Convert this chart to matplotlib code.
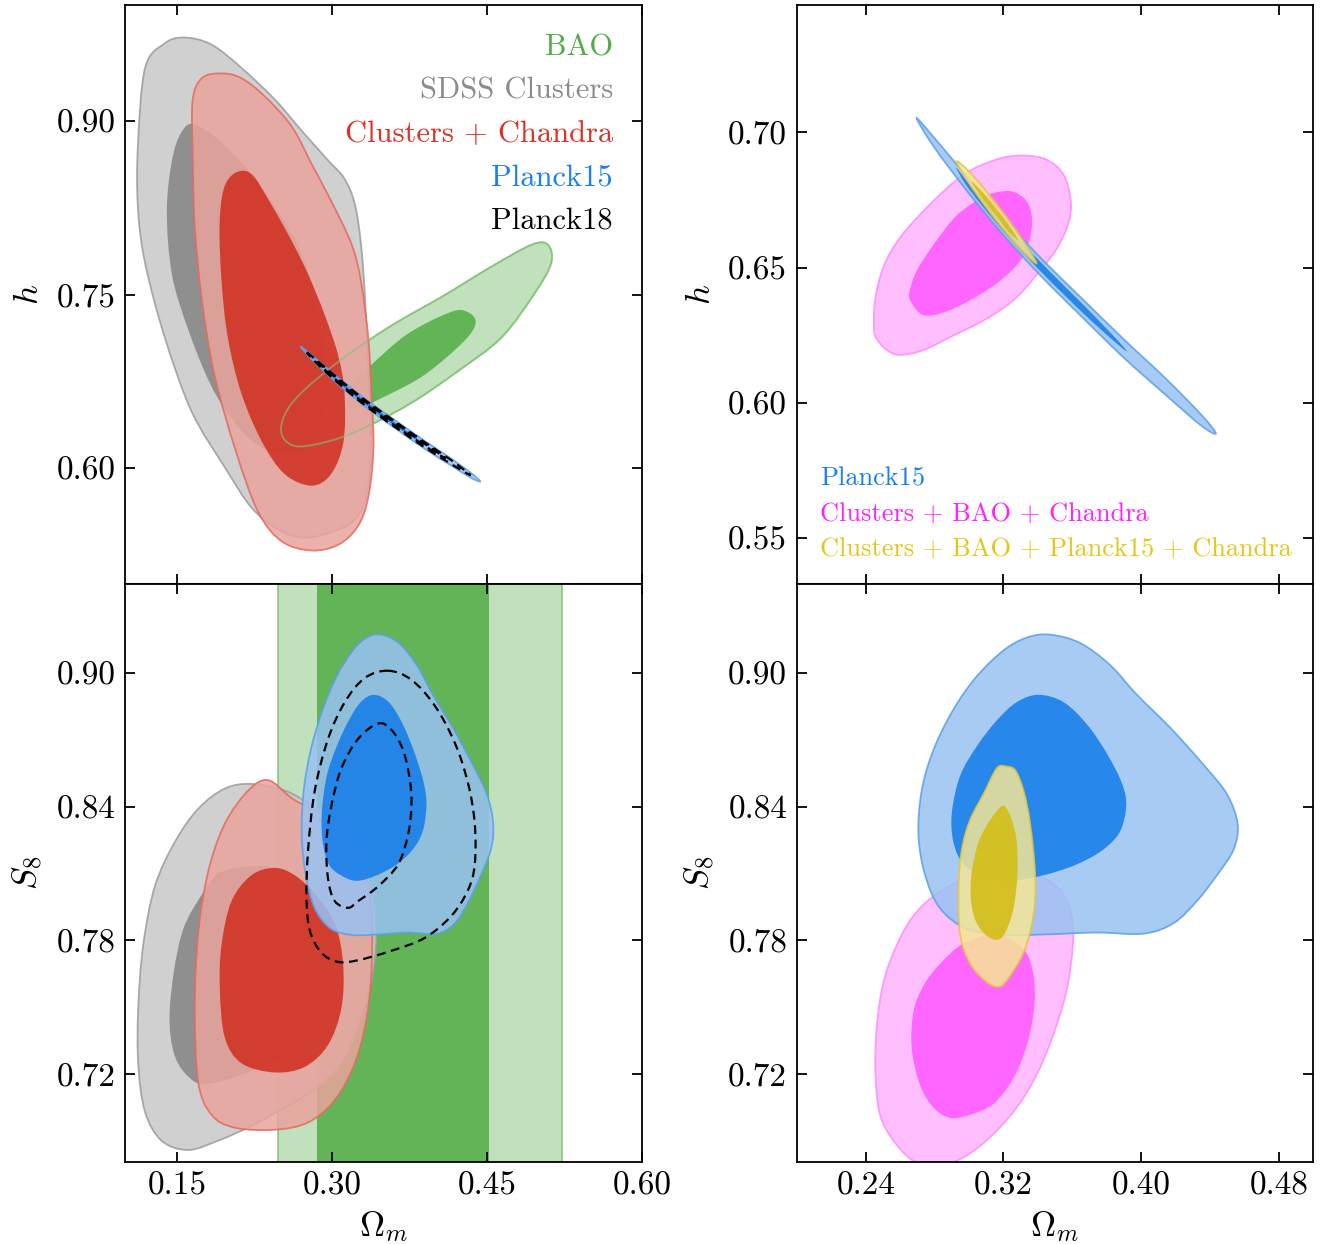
import matplotlib
matplotlib.use('Agg')
import matplotlib.pyplot as plt
from matplotlib.path import Path
from matplotlib.patches import PathPatch
from matplotlib.ticker import FormatStrFormatter

plt.rcParams['font.family'] = 'serif'
plt.rcParams['font.serif'] = ['cmr10']
plt.rcParams['mathtext.fontset'] = 'cm'
plt.rcParams['axes.unicode_minus'] = False
plt.rcParams['axes.formatter.use_mathtext'] = True

# ---- contour outlines: (Omega_m, h) plane ----
sdss_h_95 = ([0.112, 0.119, 0.138, 0.157, 0.183, 0.212, 0.245, 0.270, 0.296, 0.312, 0.322, 0.328, 0.332,
              0.335, 0.338, 0.335, 0.325, 0.306, 0.274, 0.248, 0.222, 0.196, 0.164, 0.138, 0.119, 0.112],
             [0.879, 0.946, 0.967, 0.972, 0.966, 0.946, 0.918, 0.892, 0.866, 0.850, 0.828, 0.793, 0.745,
              0.681, 0.633, 0.585, 0.559, 0.547, 0.540, 0.547, 0.566, 0.601, 0.649, 0.713, 0.777, 0.825])
sdss_h_68 = ([0.167, 0.196, 0.228, 0.261, 0.280, 0.290, 0.293, 0.290, 0.274, 0.251, 0.228, 0.206, 0.183,
              0.161, 0.145, 0.140, 0.145, 0.154],
             [0.897, 0.879, 0.847, 0.802, 0.761, 0.713, 0.665, 0.633, 0.617, 0.612, 0.620, 0.639, 0.671,
              0.719, 0.767, 0.822, 0.866, 0.890])
clch_h_95 = ([0.193, 0.174, 0.165, 0.165, 0.167, 0.174, 0.186, 0.206, 0.228, 0.251, 0.280, 0.306, 0.325,
              0.335, 0.340, 0.338, 0.335, 0.328, 0.319, 0.299, 0.280, 0.261, 0.235, 0.212],
             [0.941, 0.937, 0.918, 0.873, 0.809, 0.745, 0.681, 0.617, 0.563, 0.537, 0.529, 0.534, 0.550,
              0.575, 0.617, 0.665, 0.713, 0.761, 0.793, 0.831, 0.863, 0.895, 0.921, 0.937])
clch_h_68 = ([0.206, 0.195, 0.191, 0.193, 0.199, 0.212, 0.232, 0.254, 0.280, 0.299, 0.311, 0.312, 0.306,
              0.293, 0.277, 0.261, 0.241, 0.222],
             [0.855, 0.841, 0.809, 0.761, 0.713, 0.665, 0.623, 0.595, 0.585, 0.595, 0.623, 0.665, 0.697,
              0.732, 0.767, 0.796, 0.828, 0.854])
bao_h_95 = ([0.251, 0.261, 0.280, 0.319, 0.374, 0.422, 0.464, 0.496, 0.512, 0.509, 0.493, 0.454, 0.406,
             0.357, 0.309, 0.270, 0.254],
            [0.630, 0.620, 0.620, 0.630, 0.655, 0.684, 0.713, 0.751, 0.777, 0.793, 0.793, 0.774, 0.748,
             0.723, 0.694, 0.665, 0.646])
bao_h_68 = ([0.299, 0.312, 0.335, 0.373, 0.415, 0.431, 0.439, 0.428, 0.390, 0.351, 0.322],
            [0.652, 0.668, 0.687, 0.716, 0.735, 0.735, 0.726, 0.710, 0.681, 0.662, 0.651])
p15_h_95 = ([0.2695, 0.280, 0.300, 0.320, 0.342, 0.365, 0.390, 0.415, 0.435, 0.4434,
             0.435, 0.415, 0.390, 0.365, 0.342, 0.320, 0.300, 0.280],
            [0.7052, 0.6978, 0.6827, 0.6681, 0.6533, 0.6389, 0.6234, 0.6085, 0.5955, 0.5887,
             0.5915, 0.6025, 0.6166, 0.6321, 0.6467, 0.6619, 0.6773, 0.6942])
p15_h_68 = ([0.2925, 0.300, 0.320, 0.342, 0.365, 0.382, 0.3918, 0.382, 0.365, 0.342, 0.320, 0.300],
            [0.687, 0.681, 0.6665, 0.6517, 0.6371, 0.626, 0.619, 0.624, 0.6339, 0.6483, 0.6635, 0.679])
p18_h_95 = ([0.2755, 0.290, 0.320, 0.342, 0.365, 0.390, 0.415, 0.434,
             0.415, 0.390, 0.365, 0.342, 0.320, 0.290],
            [0.700, 0.6896, 0.6672, 0.6524, 0.6379, 0.6222, 0.6072, 0.594,
             0.6038, 0.6178, 0.6331, 0.6476, 0.6628, 0.6864])
p18_h_68 = ([0.285, 0.300, 0.320, 0.342, 0.365, 0.390, 0.410, 0.390, 0.365, 0.342, 0.320, 0.300],
            [0.692, 0.6808, 0.6661, 0.6512, 0.6367, 0.6209, 0.6085, 0.6191, 0.6343, 0.6488, 0.6639, 0.6792])
cbc_h_95 = ([0.2448, 0.2464, 0.2522, 0.2600, 0.2735, 0.2909, 0.3084, 0.3258, 0.3394, 0.3510, 0.3578,
             0.3591, 0.3549, 0.3452, 0.3316, 0.3161, 0.2968, 0.2774, 0.2600, 0.2503, 0.2454],
            [0.6270, 0.6236, 0.6195, 0.6177, 0.6195, 0.6249, 0.6304, 0.6379, 0.6474, 0.6570, 0.6666,
             0.6747, 0.6843, 0.6898, 0.6914, 0.6900, 0.6843, 0.6734, 0.6611, 0.6502, 0.6379])
cbc_h_68 = ([0.2658, 0.2735, 0.2871, 0.3045, 0.3200, 0.3316, 0.3365, 0.3345, 0.3277, 0.3200, 0.3084,
             0.2929, 0.2793, 0.2696, 0.2658],
            [0.6379, 0.6324, 0.6338, 0.6393, 0.6461, 0.6543, 0.6652, 0.6734, 0.6775, 0.6782, 0.6761,
             0.6693, 0.6584, 0.6488, 0.6420])
cbpc_h_95 = ([0.2927, 0.300, 0.310, 0.320, 0.330, 0.3392, 0.330, 0.320, 0.310, 0.300],
             [0.6892, 0.6855, 0.6782, 0.6701, 0.6612, 0.6516, 0.6568, 0.6641, 0.6722, 0.6811])
cbpc_h_68 = ([0.3014, 0.308, 0.316, 0.323, 0.3285, 0.323, 0.316, 0.308],
             [0.6818, 0.6778, 0.6715, 0.6658, 0.6602, 0.6632, 0.6689, 0.6752])

# ---- (Omega_m, S8) plane ----
sdss_s8_95 = ([0.2219, 0.1961, 0.1703, 0.1477, 0.1284, 0.1171, 0.1123, 0.1123, 0.1187, 0.1348, 0.1606,
               0.1897, 0.2219, 0.2542, 0.2832, 0.3090, 0.3252, 0.3381, 0.3429, 0.3381, 0.3252, 0.3058,
               0.2800, 0.2542],
              [0.8502, 0.8481, 0.8390, 0.8241, 0.8042, 0.7778, 0.7496, 0.7248, 0.7033, 0.6901, 0.6859,
               0.6901, 0.6967, 0.7050, 0.7132, 0.7248, 0.7414, 0.7612, 0.7827, 0.8026, 0.8191, 0.8323,
               0.8406, 0.8472])
sdss_s8_68 = ([0.2219, 0.1929, 0.1768, 0.1542, 0.1429, 0.1477, 0.1671, 0.1897, 0.2219, 0.2542, 0.2800,
               0.2961, 0.2994, 0.2897, 0.2671, 0.2445],
              [0.8133, 0.8108, 0.8026, 0.7827, 0.7496, 0.7281, 0.7165, 0.7165, 0.7215, 0.7298, 0.7414,
               0.7579, 0.7778, 0.7959, 0.8075, 0.8125])
clch_s8_95 = ([0.2381, 0.2187, 0.1961, 0.1800, 0.1703, 0.1671, 0.1703, 0.1832, 0.2058, 0.2445, 0.2768,
               0.3026, 0.3219, 0.3332, 0.3381, 0.3381, 0.3316, 0.3219, 0.3058, 0.2800, 0.2606],
              [0.8519, 0.8472, 0.8323, 0.8108, 0.7827, 0.7496, 0.7165, 0.7017, 0.6959, 0.6950, 0.6983,
               0.7083, 0.7248, 0.7447, 0.7662, 0.7910, 0.8158, 0.8290, 0.8340, 0.8390, 0.8439])
clch_s8_68 = ([0.2445, 0.2219, 0.2026, 0.1929, 0.1913, 0.1961, 0.2123, 0.2445, 0.2735, 0.2961, 0.3090,
               0.3106, 0.3026, 0.2832, 0.2639],
              [0.8125, 0.8092, 0.7976, 0.7778, 0.7579, 0.7364, 0.7248, 0.7207, 0.7232, 0.7331, 0.7496,
               0.7695, 0.7877, 0.8009, 0.8092])
p15_s8_95 = ([0.3471, 0.3646, 0.3820, 0.3975, 0.4169, 0.4362, 0.4498, 0.4560, 0.4537, 0.4440, 0.4323,
              0.4188, 0.4014, 0.3742, 0.3452, 0.3200, 0.2987, 0.2832, 0.2745, 0.2706, 0.2725, 0.2793,
              0.2909, 0.3045, 0.3200, 0.3336],
             [0.9172, 0.9134, 0.9035, 0.8902, 0.8754, 0.8588, 0.8456, 0.8323, 0.8208, 0.8092, 0.7976,
              0.7877, 0.7830, 0.7835, 0.7827, 0.7824, 0.7852, 0.7943, 0.8092, 0.8274, 0.8472, 0.8654,
              0.8836, 0.8985, 0.9101, 0.9159])
p15_s8_68 = ([0.3403, 0.3549, 0.3684, 0.3801, 0.3888, 0.3913, 0.3878, 0.3781, 0.3626, 0.3432, 0.3239,
              0.3084, 0.2968, 0.2909, 0.2900, 0.2948, 0.3045, 0.3161, 0.3277],
             [0.8902, 0.8869, 0.8770, 0.8638, 0.8505, 0.8406, 0.8290, 0.8208, 0.8141, 0.8092, 0.8067,
              0.8092, 0.8141, 0.8241, 0.8373, 0.8538, 0.8671, 0.8787, 0.8869])
p18_s8_95 = ([0.3542, 0.3768, 0.3994, 0.4187, 0.4316, 0.4381, 0.4381, 0.4316, 0.4155, 0.3897, 0.3574,
              0.3252, 0.3058, 0.2897, 0.2784, 0.2752, 0.2768, 0.2832, 0.2961, 0.3123, 0.3316],
             [0.9010, 0.8969, 0.8853, 0.8687, 0.8505, 0.8323, 0.8141, 0.8026, 0.7910, 0.7811, 0.7753,
              0.7711, 0.7703, 0.7744, 0.7844, 0.7993, 0.8208, 0.8472, 0.8704, 0.8869, 0.8977])
p18_s8_68 = ([0.3445, 0.3574, 0.3687, 0.3752, 0.3768, 0.3735, 0.3639, 0.3445, 0.3252, 0.3155, 0.3026,
              0.2961, 0.2945, 0.2994, 0.3090, 0.3252],
             [0.8773, 0.8745, 0.8654, 0.8522, 0.8406, 0.8274, 0.8141, 0.8042, 0.7976, 0.7946, 0.7976,
              0.8075, 0.8241, 0.8406, 0.8572, 0.8704])
cbc_s8_95 = ([0.3219, 0.3394, 0.3529, 0.3597, 0.3603, 0.3568, 0.3491, 0.3394, 0.3277, 0.3123, 0.2968,
              0.2813, 0.2677, 0.2561, 0.2483, 0.2456, 0.2464, 0.2503, 0.2580, 0.2677, 0.2813, 0.3006],
             [0.8112, 0.8092, 0.8026, 0.7910, 0.7778, 0.7579, 0.7380, 0.7199, 0.7050, 0.6917, 0.6826,
              0.6785, 0.6810, 0.6901, 0.7017, 0.7199, 0.7414, 0.7612, 0.7778, 0.7910, 0.8009, 0.8084])
cbc_s8_68 = ([0.3161, 0.3316, 0.3374, 0.3378, 0.3336, 0.3258, 0.3142, 0.3006, 0.2890, 0.2793, 0.2716,
              0.2667, 0.2677, 0.2735, 0.2832, 0.2968],
             [0.7827, 0.7761, 0.7645, 0.7496, 0.7331, 0.7182, 0.7066, 0.7017, 0.7003, 0.7050, 0.7149,
              0.7314, 0.7480, 0.7596, 0.7695, 0.7786])
cbpc_s8_95 = ([0.3216, 0.3161, 0.3084, 0.3006, 0.2958, 0.2939, 0.2948, 0.3006, 0.3103, 0.3171, 0.3219,
               0.3316, 0.3374, 0.3384, 0.3355, 0.3316, 0.3268],
              [0.8580, 0.8572, 0.8456, 0.8340, 0.8208, 0.8042, 0.7827, 0.7695, 0.7612, 0.7592, 0.7620,
               0.7744, 0.7910, 0.8092, 0.8323, 0.8472, 0.8563])
cbpc_s8_68 = ([0.3190, 0.3123, 0.3055, 0.3016, 0.3010, 0.3035, 0.3093, 0.3161, 0.3210, 0.3258, 0.3281,
               0.3277, 0.3248, 0.3219],
              [0.8403, 0.8340, 0.8241, 0.8108, 0.7993, 0.7893, 0.7827, 0.7802, 0.7835, 0.7943, 0.8092,
               0.8241, 0.8340, 0.8390])

# BAO has no S8 information: Omega_m intervals only
bao_om_68 = (0.285, 0.452)
bao_om_95 = (0.248, 0.523)

# colours: (light, dark, edge)
GRAY = ('#c8c8c8', '#848484', '#9c9c9c')
RED = ('#e9a49c', '#d02d1e', '#e36a5f')
GREEN = ('#b6dcb1', '#52ad46', '#85c27b')
BLUE = ('#99c2f3', '#117bea', '#5c9fe8')
PINK = ('#ffb4ff', '#ff56ff', '#ff8cff')
YELLOW = ('#f5e696', '#d2bc0f', '#e3c640')
ALPHA = 0.85


def outline(cont):
    # closed curve through the read points (bezier segments)
    xs, ys = cont
    n = len(xs)
    verts = [(xs[0], ys[0])]
    codes = [Path.MOVETO]
    for i in range(n):
        x0, y0 = xs[i - 1], ys[i - 1]
        x1, y1 = xs[i], ys[i]
        x2, y2 = xs[(i + 1) % n], ys[(i + 1) % n]
        x3, y3 = xs[(i + 2) % n], ys[(i + 2) % n]
        verts += [(x1 + (x2 - x0) / 6, y1 + (y2 - y0) / 6),
                  (x2 - (x3 - x1) / 6, y2 - (y3 - y1) / 6),
                  (x2, y2)]
        codes += [Path.CURVE4] * 3
    verts.append(verts[0])
    codes.append(Path.CLOSEPOLY)
    return Path(verts, codes)


def pair(ax, c95, c68, cols, z):
    light, dark, edge = cols
    ax.add_patch(PathPatch(outline(c95), facecolor=light, edgecolor=edge, lw=1.3,
                           alpha=ALPHA, zorder=z))
    ax.add_patch(PathPatch(outline(c68), facecolor=dark, edgecolor='none',
                           alpha=ALPHA, zorder=z + 0.1))


def dashed(ax, cont, z):
    ax.add_patch(PathPatch(outline(cont), fill=False, edgecolor='k', lw=1.6,
                           linestyle=(0, (4, 2.5)), zorder=z))


def style(ax, xticks, yticks, xlim, ylim, showx):
    ax.set_xlim(*xlim)
    ax.set_ylim(*ylim)
    ax.set_xticks(xticks)
    ax.set_yticks(yticks)
    ax.xaxis.set_major_formatter(FormatStrFormatter('%.2f'))
    ax.yaxis.set_major_formatter(FormatStrFormatter('%.2f'))
    ax.tick_params(direction='in', length=7, width=1.3, top=True, right=True,
                   labelsize=24, pad=7, labelbottom=showx)
    for s in ax.spines.values():
        s.set_linewidth(1.3)


fig = plt.figure(figsize=(13.3, 12.44), dpi=100)
ax_tl = fig.add_axes([0.0940, 0.5305, 0.3887, 0.4654])
ax_bl = fig.add_axes([0.0940, 0.0659, 0.3887, 0.4646])
ax_tr = fig.add_axes([0.5992, 0.5305, 0.3880, 0.4654])
ax_br = fig.add_axes([0.5992, 0.0659, 0.3880, 0.4646])

LEFT_X = (0.0995, 0.5997)
RIGHT_X = (0.20, 0.4998)

# top-left: h vs Omega_m
ax = ax_tl
pair(ax, bao_h_95, bao_h_68, GREEN, 1)
pair(ax, sdss_h_95, sdss_h_68, GRAY, 2)
pair(ax, clch_h_95, clch_h_68, RED, 3)
ax.add_patch(PathPatch(outline(bao_h_95), fill=False, edgecolor=GREEN[2], lw=1.3,
                       alpha=0.6, zorder=4))
pair(ax, p15_h_95, p15_h_68, BLUE, 5)
dashed(ax, p18_h_95, 6)
dashed(ax, p18_h_68, 6)
style(ax, [0.15, 0.30, 0.45, 0.60], [0.60, 0.75, 0.90], LEFT_X, (0.50, 1.00), False)
ax.set_ylabel('$h$', fontsize=25)
ax.yaxis.set_label_coords(-0.155, 0.5)
labels = [('BAO', '#52ad46'), ('SDSS Clusters', '#8c8c8c'), ('Clusters + Chandra', '#dc3228'),
          ('Planck15', '#1a7ff0'), ('Planck18', 'k')]
for i, (t, c) in enumerate(labels):
    ax.text(0.944, 0.926 - i * 0.0747, t, color=c, fontsize=22, ha='right', va='center',
            transform=ax.transAxes, zorder=10)

# bottom-left: S8 vs Omega_m
ax = ax_bl
ax.axvspan(*bao_om_95, facecolor=GREEN[0], edgecolor=GREEN[2], lw=1.3, alpha=ALPHA, zorder=0.5)
ax.axvspan(*bao_om_68, facecolor=GREEN[1], edgecolor='none', alpha=ALPHA, zorder=0.6)
pair(ax, sdss_s8_95, sdss_s8_68, GRAY, 2)
pair(ax, clch_s8_95, clch_s8_68, RED, 3)
pair(ax, p15_s8_95, p15_s8_68, BLUE, 4)
dashed(ax, p18_s8_95, 6)
dashed(ax, p18_s8_68, 6)
style(ax, [0.15, 0.30, 0.45, 0.60], [0.72, 0.78, 0.84, 0.90], LEFT_X, (0.6805, 0.9399), True)
ax.set_ylabel('$S_8$', fontsize=25)
ax.yaxis.set_label_coords(-0.155, 0.5)
ax.set_xlabel(r'$\Omega_m$', fontsize=25, labelpad=6)

# top-right
ax = ax_tr
pair(ax, cbc_h_95, cbc_h_68, PINK, 1)
pair(ax, p15_h_95, p15_h_68, BLUE, 2)
pair(ax, cbpc_h_95, cbpc_h_68, YELLOW, 3)
style(ax, [0.24, 0.32, 0.40, 0.48], [0.55, 0.60, 0.65, 0.70], RIGHT_X, (0.533, 0.747), False)
ax.set_ylabel('$h$', fontsize=25)
ax.yaxis.set_label_coords(-0.155, 0.5)
labels = [('Planck15', '#1a7ff0'), ('Clusters + BAO + Chandra', '#ff22ff'),
          ('Clusters + BAO + Planck15 + Chandra', '#e6c619')]
for i, (t, c) in enumerate(labels):
    ax.text(0.0446, 0.182 - i * 0.0615, t, color=c, fontsize=19, ha='left', va='center',
            transform=ax.transAxes, zorder=10)

# bottom-right
ax = ax_br
pair(ax, cbc_s8_95, cbc_s8_68, PINK, 1)
pair(ax, p15_s8_95, p15_s8_68, BLUE, 2)
pair(ax, cbpc_s8_95, cbpc_s8_68, YELLOW, 3)
style(ax, [0.24, 0.32, 0.40, 0.48], [0.72, 0.78, 0.84, 0.90], RIGHT_X, (0.6805, 0.9399), True)
ax.set_ylabel('$S_8$', fontsize=25)
ax.yaxis.set_label_coords(-0.155, 0.5)
ax.set_xlabel(r'$\Omega_m$', fontsize=25, labelpad=6)

fig.savefig('out.png', dpi=100)
